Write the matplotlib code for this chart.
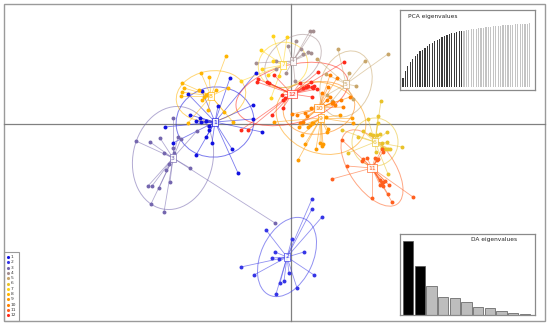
import matplotlib
matplotlib.use("Agg")
import matplotlib.pyplot as plt
from matplotlib.patches import Ellipse, Rectangle

# ---------------- data (screen-pixel units) ----------------
labels = ["1", "2", "3", "4", "5", "6", "7", "8", "9", "10", "11", "12"]
colors = ["#1010E0", "#3535E6", "#7466AE", "#A48E90", "#C8A66A", "#E9C22A",
          "#FFD21A", "#FFB400", "#FF9A00", "#FF8000", "#FF5F1E", "#FF2A1A"]

centroids = [(215, 122), (287, 257), (173, 158), (293, 61), (346, 84), (375, 142),
             (283, 65), (211, 96), (321, 118), (319, 108), (372, 168), (292, 94)]

G1 = [(230, 78), (256, 73), (188, 94), (202, 91), (200, 118), (218, 106), (190, 115),
      (201, 122), (206, 121), (209, 126), (209, 130), (165, 127), (212, 143), (206, 137),
      (196, 155), (232, 149), (238, 173), (253, 119), (253, 105), (262, 132), (173, 143),
      (196, 121)]
G2 = [(312, 199), (312, 209), (322, 217), (266, 230), (292, 239), (275, 252), (304, 252),
      (272, 258), (279, 259), (241, 267), (254, 275), (289, 273), (284, 281), (280, 283),
      (314, 275), (297, 288), (276, 294)]
G3 = [(173, 118), (136, 141), (150, 142), (160, 138), (178, 137), (181, 139), (173, 148),
      (174, 153), (164, 153), (169, 164), (166, 170), (190, 168), (170, 182), (159, 188),
      (148, 186), (152, 186), (197, 131), (275, 223), (151, 204), (164, 212)]
G4 = [(310, 31), (313, 31), (296, 41), (288, 46), (301, 49), (308, 52), (311, 53),
      (303, 54), (256, 63), (276, 61), (276, 69), (286, 73), (295, 81)]
G5 = [(338, 49), (388, 54), (365, 61), (317, 59), (326, 74), (356, 86), (353, 99),
      (349, 73), (332, 101), (327, 95)]
G6 = [(381, 101), (378, 116), (368, 119), (378, 123), (342, 130), (363, 131), (370, 134),
      (373, 135), (377, 135), (380, 134), (387, 132), (358, 137), (387, 142), (382, 143),
      (382, 148), (385, 149), (388, 149), (390, 149), (402, 147), (376, 152), (348, 153),
      (388, 174)]
G7 = [(273, 36), (287, 37), (261, 50), (273, 61), (268, 75), (279, 76), (262, 69),
      (271, 98), (241, 81)]
G8 = [(226, 56), (201, 73), (209, 77), (182, 83), (184, 88), (182, 92), (181, 96),
      (199, 90), (216, 90), (206, 95), (208, 94), (204, 97), (228, 88), (202, 100),
      (224, 112), (233, 122), (188, 123), (208, 110)]
G9 = [(353, 123), (352, 118), (313, 123), (310, 125), (308, 127), (328, 129), (327, 132),
      (302, 135), (320, 143), (323, 144), (322, 146), (305, 144), (316, 149), (298, 160),
      (274, 122), (299, 127), (326, 117), (340, 115), (312, 123)]
G10 = [(292, 114), (297, 115), (305, 113), (307, 116), (311, 108), (315, 107), (327, 100),
       (330, 97), (333, 102), (341, 100), (335, 105), (343, 107), (332, 103), (350, 97),
       (300, 123), (303, 122), (337, 78), (330, 75), (328, 87), (322, 93)]
G11 = [(332, 179), (347, 166), (342, 140), (362, 161), (363, 159), (367, 158), (375, 158),
       (377, 160), (378, 159), (382, 149), (383, 152), (380, 180), (382, 183), (383, 182),
       (385, 181), (380, 185), (383, 186), (389, 185), (388, 194), (392, 202), (372, 198),
       (413, 197)]
G12 = [(344, 62), (318, 72), (300, 83), (311, 82), (312, 87), (308, 86), (314, 86),
       (306, 87), (313, 88), (317, 89), (267, 82), (269, 83), (282, 95), (283, 100),
       (312, 97), (257, 82), (274, 75), (285, 98), (283, 108), (272, 115), (258, 79),
       (241, 130), (248, 130), (303, 88)]
groups = [G1, G2, G3, G4, G5, G6, G7, G8, G9, G10, G11, G12]

# ellipse extents (major/minor diameters) and screen tilt (degrees, counter-clockwise)
ell_w = [78, 84, 80, 64, 68, 46, 50, 70, 92, 72, 88, 115]
ell_h = [70, 52, 104, 44, 50, 48, 45, 50, 70, 52, 44, 58]
ell_ang = [10, 65, -12, 40, 70, 0, 20, 10, -20, 10, -55, 15]

# eigenvalue insets
pca_cumvar = [27, 47, 62, 74, 84, 92, 100, 107, 113, 119, 124, 129, 134, 138, 142, 146,
              150, 153, 156, 159, 162, 164, 166, 168, 169,
              170, 172, 173, 174, 175, 176, 177, 178, 179, 180, 181, 182, 183, 184, 184,
              185, 186, 187, 187, 188, 188, 189, 189, 190, 190, 191, 191, 192]
n_pca_retained = 25
da_eig = [219, 145, 87, 54, 49, 38, 25, 21, 12, 7, 3]
n_da_retained = 2

# ---------------- figure ----------------
W, H = 550, 325
fig = plt.figure(figsize=(W / 100, H / 100), dpi=100)
ax = fig.add_axes([0, 0, 1, 1])
ax.set_xlim(0, W)
ax.set_ylim(H, 0)
ax.axis("off")

# frame and axes through origin
ax.add_patch(Rectangle((4, 4), 541, 317, fill=False, ec="#9a9a9a", lw=1.0, zorder=1))
ax.plot([4, 545], [124, 124], color="#808080", lw=0.9, zorder=1)
ax.plot([291, 291], [4, 321], color="#808080", lw=0.9, zorder=1)

for i, (pts, (cx, cy), col) in enumerate(zip(groups, centroids, colors)):
    ax.add_patch(Ellipse((cx, cy), ell_w[i], ell_h[i], angle=-ell_ang[i], fill=False,
                         ec=col, lw=0.7, alpha=0.55, zorder=2))
    for (px, py) in pts:
        ax.plot([cx, px], [cy, py], color=col, lw=0.6, alpha=0.55, zorder=3)
for pts, col in zip(groups, colors):
    xs = [p[0] for p in pts]
    ys = [p[1] for p in pts]
    ax.scatter(xs, ys, s=8, color=col, linewidths=0, zorder=4)
for (cx, cy), col, lab in zip(centroids, colors, labels):
    ax.text(cx, cy, lab, ha="center", va="center", fontsize=4.4, color=col, zorder=5,
            bbox=dict(boxstyle="square,pad=0.25", fc="white", ec=col, lw=0.5, alpha=0.9))

# legend (bottom-left)
ax.add_patch(Rectangle((4, 252), 15, 69, fill=False, ec="#9a9a9a", lw=0.8, zorder=6))
for k, (col, lab) in enumerate(zip(colors, labels)):
    yy = 257 + k * 5.3
    ax.scatter([7.5], [yy], s=5, color=col, linewidths=0, zorder=7)
    ax.text(11, yy, lab, fontsize=3.2, va="center", ha="left", color="#333333", zorder=7)

# PCA eigenvalues inset
axp = fig.add_axes([400 / W, 1 - 90 / H, 135 / W, 80 / H])
n = len(pca_cumvar)
xs = list(range(1, n + 1))
cols_p = ["#3a3a3a" if j < n_pca_retained else "#c4c4c4" for j in range(n)]
axp.bar(xs, pca_cumvar, width=0.5, color=cols_p, linewidth=0)
axp.set_xlim(-0.23, 55.1)
axp.set_ylim(-9, 232)
axp.set_xticks([])
axp.set_yticks([])
for s in axp.spines.values():
    s.set_color("#8a8a8a")
    s.set_linewidth(0.9)
axp.text(0.06, 0.915, "PCA eigenvalues", transform=axp.transAxes, fontsize=4.2,
         ha="left", va="center", color="#222222")

# DA eigenvalues inset
axd = fig.add_axes([400 / W, 1 - 315 / H, 135 / W, 81 / H])
m = len(da_eig)
xd = list(range(1, m + 1))
cols_d = ["black" if j < n_da_retained else "#bdbdbd" for j in range(m)]
axd.bar(xd, da_eig, width=0.89, color=cols_d, edgecolor="#555555", linewidth=0.5)
axd.set_xlim(0.30, 11.88)
axd.set_ylim(0, 240)
axd.set_xticks([])
axd.set_yticks([])
for s in axd.spines.values():
    s.set_color("#8a8a8a")
    s.set_linewidth(0.9)
axd.text(0.70, 0.93, "DA eigenvalues", transform=axd.transAxes, fontsize=4.2,
         ha="center", va="center", color="#222222")

fig.savefig("out.png", dpi=100)
